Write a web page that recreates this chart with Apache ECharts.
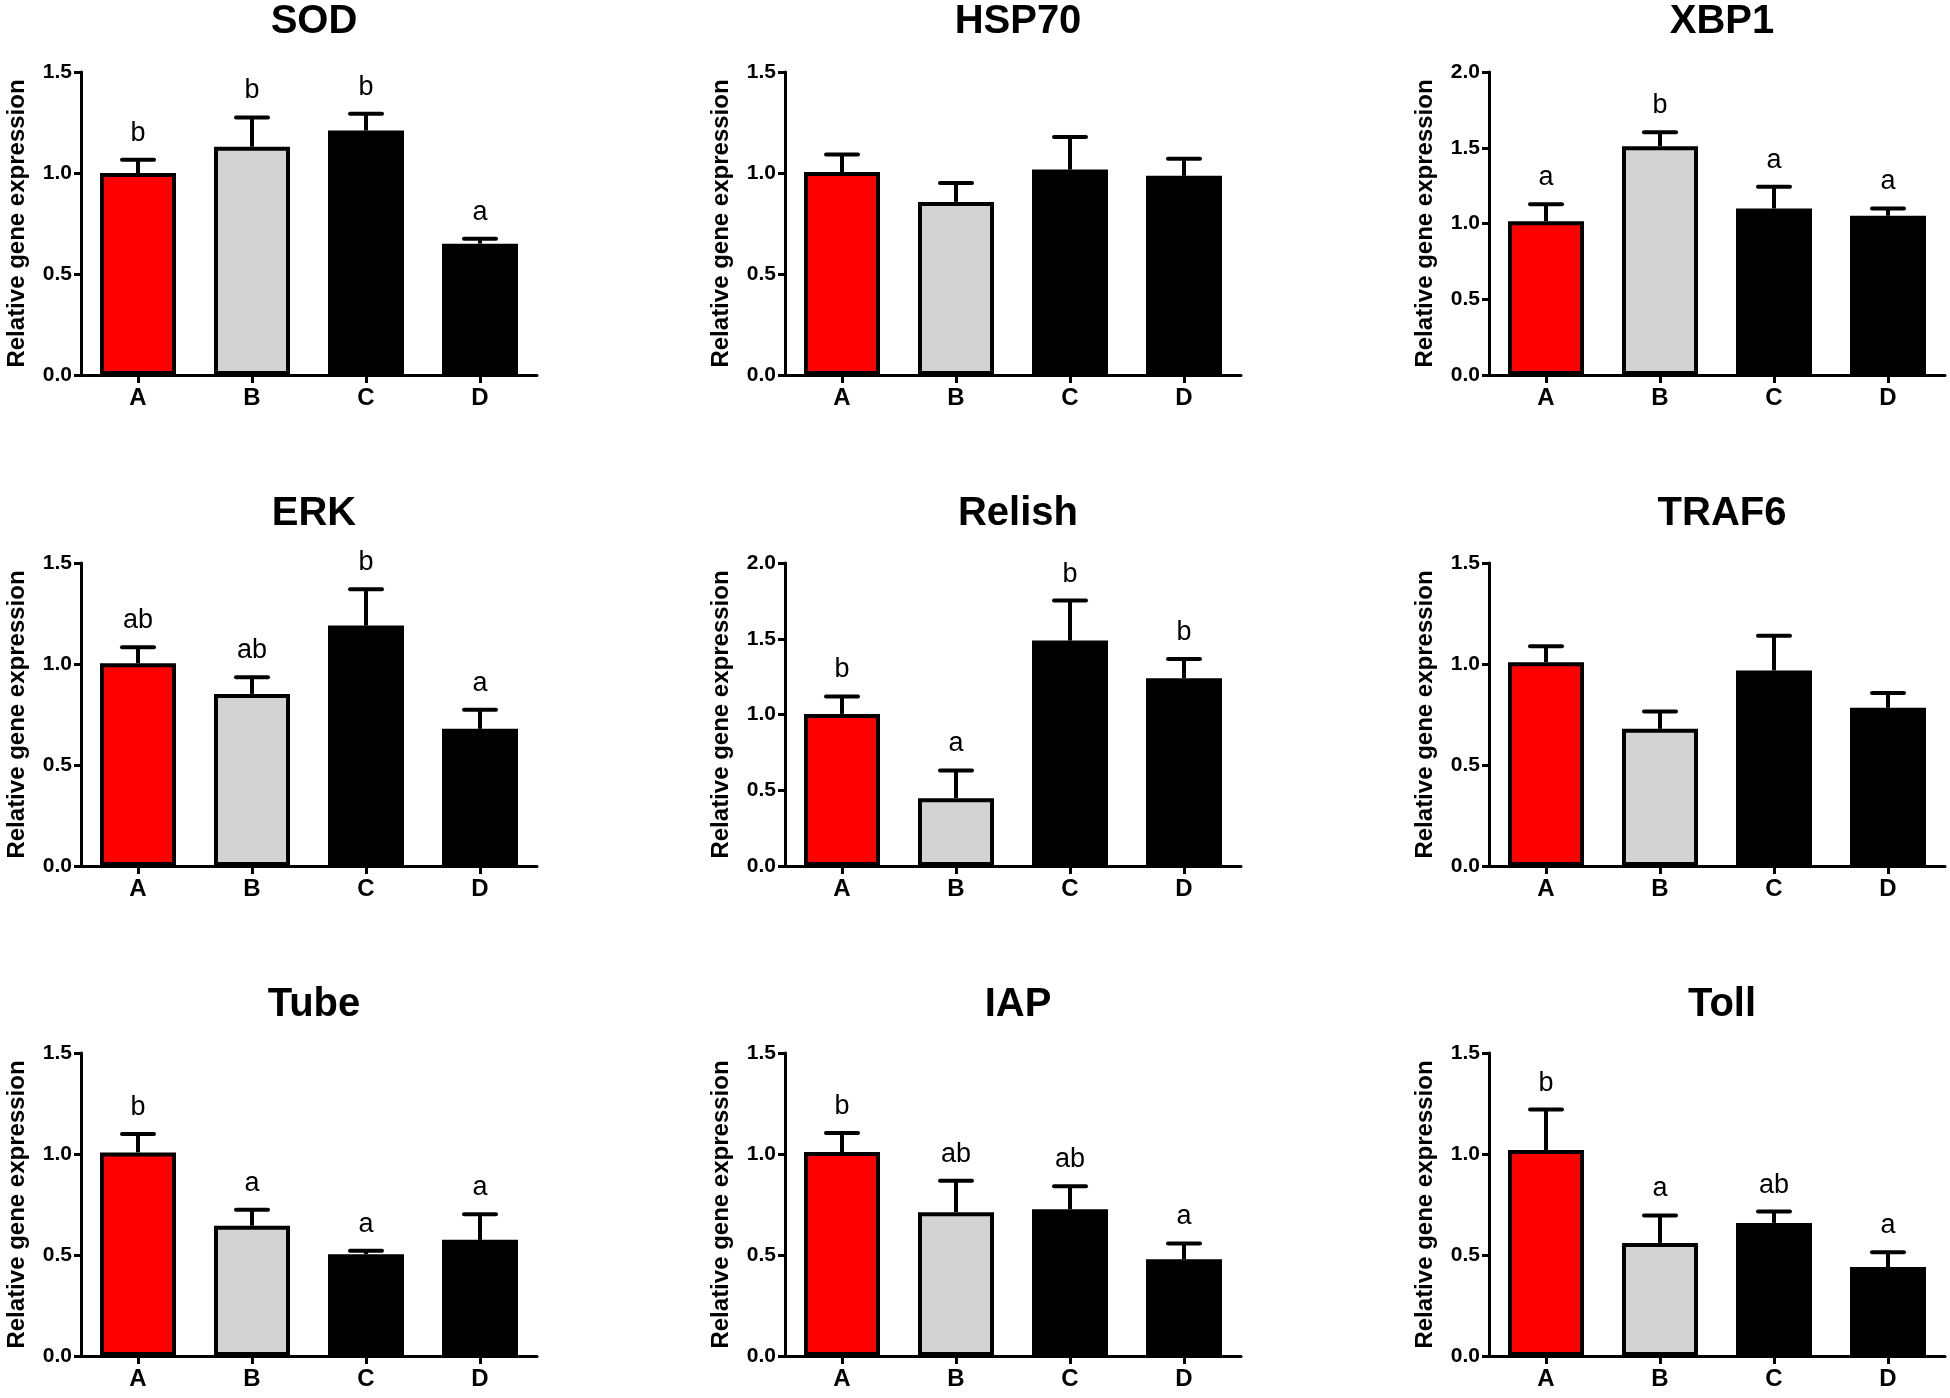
<!DOCTYPE html>
<html>
<head>
<meta charset="utf-8">
<script src="https://cdn.jsdelivr.net/npm/echarts@6/dist/echarts.min.js"></script>
<style>
html,body{margin:0;padding:0;background:#fff;}
#c{width:1950px;height:1398px;}
</style>
</head>
<body>
<div id="c"></div>
<script>
// ---- data ----
var categories = ['A', 'B', 'C', 'D'];
var barColors = ['#FF0000', '#D3D3D3', '#000000', '#000000'];

var genes = ['SOD', 'HSP70', 'XBP1', 'ERK', 'Relish', 'TRAF6', 'Tube', 'IAP', 'Toll'];
var yMax = [1.5, 1.5, 2.0, 1.5, 2.0, 1.5, 1.5, 1.5, 1.5];

var sodValues = [1.00, 1.13, 1.21, 0.65];
var sodErrors = [0.066, 0.145, 0.083, 0.025];
var sodLetters = ['b', 'b', 'b', 'a'];

var hsp70Values = [1.005, 0.857, 1.017, 0.986];
var hsp70Errors = [0.086, 0.094, 0.161, 0.085];
var hsp70Letters = ['', '', '', ''];

var xbp1Values = [1.015, 1.51, 1.099, 1.051];
var xbp1Errors = [0.112, 0.092, 0.143, 0.048];
var xbp1Letters = ['a', 'b', 'a', 'a'];

var erkValues = [1.004, 0.852, 1.19, 0.679];
var erkErrors = [0.079, 0.083, 0.18, 0.094];
var erkLetters = ['ab', 'ab', 'b', 'a'];

var relishValues = [1.004, 0.448, 1.488, 1.24];
var relishErrors = [0.115, 0.183, 0.264, 0.127];
var relishLetters = ['b', 'a', 'b', 'b'];

var traf6Values = [1.009, 0.679, 0.968, 0.783];
var traf6Errors = [0.079, 0.086, 0.172, 0.074];
var traf6Letters = ['', '', '', ''];

var tubeValues = [1.008, 0.645, 0.504, 0.575];
var tubeErrors = [0.091, 0.079, 0.017, 0.127];
var tubeLetters = ['b', 'a', 'a', 'a'];

var iapValues = [1.01, 0.712, 0.727, 0.479];
var iapErrors = [0.094, 0.156, 0.113, 0.078];
var iapLetters = ['b', 'ab', 'ab', 'a'];

var tollValues = [1.02, 0.56, 0.659, 0.44];
var tollErrors = [0.2, 0.136, 0.056, 0.073];
var tollLetters = ['b', 'a', 'ab', 'a'];

var allValues = [sodValues, hsp70Values, xbp1Values, erkValues, relishValues, traf6Values, tubeValues, iapValues, tollValues];
var allErrors = [sodErrors, hsp70Errors, xbp1Errors, erkErrors, relishErrors, traf6Errors, tubeErrors, iapErrors, tollErrors];
var allLetters = [sodLetters, hsp70Letters, xbp1Letters, erkLetters, relishLetters, traf6Letters, tubeLetters, iapLetters, tollLetters];

// ---- layout ----
var FONT = '"Liberation Sans", Arial, Helvetica, sans-serif';
var colLeft = [81, 785, 1489];
var rowTop = [72, 563, 1053];
var plotW = 456, plotH = 303;
var titleTop = [-3, 489, 980];

var option = {
  backgroundColor: '#ffffff',
  animation: false,
  title: [], grid: [], xAxis: [], yAxis: [], series: []
};

genes.forEach(function (g, i) {
  var r = Math.floor(i / 3), c = i % 3;
  option.title.push({
    text: g,
    left: colLeft[c] + plotW / 2,
    top: titleTop[r],
    textAlign: 'center',
    textStyle: { fontFamily: FONT, fontSize: 40, fontWeight: 'bold', color: '#000' }
  });
  option.grid.push({ left: colLeft[c], top: rowTop[r], width: plotW, height: plotH, containLabel: false });
  option.xAxis.push({
    type: 'category', gridIndex: i, data: categories,
    axisLine: { show: true, lineStyle: { color: '#000', width: 3 } },
    axisTick: { show: true, alignWithLabel: true, length: 8, lineStyle: { color: '#000', width: 3 } },
    axisLabel: { fontFamily: FONT, fontSize: 24, fontWeight: 'bold', color: '#000', margin: 11 }
  });
  option.yAxis.push({
    type: 'value', gridIndex: i, min: 0, max: yMax[i], interval: 0.5,
    name: 'Relative gene expression', nameLocation: 'middle', nameGap: 52,
    nameTextStyle: { fontFamily: FONT, fontSize: 24, fontWeight: 'bold', color: '#000' },
    axisLine: { show: true, lineStyle: { color: '#000', width: 3 } },
    axisTick: { show: true, length: 7, lineStyle: { color: '#000', width: 3 } },
    splitLine: { show: false },
    axisLabel: {
      fontFamily: FONT, fontSize: 21, fontWeight: 'bold', color: '#000', margin: 9,
      formatter: function (v) { return v.toFixed(1); }
    }
  });
  var vals = allValues[i], errs = allErrors[i], lets = allLetters[i];
  option.series.push({
    type: 'bar', xAxisIndex: i, yAxisIndex: i, barWidth: 76, z: 2,
    data: vals.map(function (v, k) {
      return { value: v, itemStyle: { color: barColors[k], borderColor: '#000', borderWidth: 4 } };
    })
  });
  option.series.push({
    type: 'custom', xAxisIndex: i, yAxisIndex: i, z: 3,
    data: vals.map(function (v, k) { return [k, v, errs[k]]; }),
    renderItem: function (params, api) {
      var x = api.value(0), v = api.value(1), e = api.value(2);
      var base = api.coord([x, v]);
      var top = api.coord([x, v + e]);
      var children = [
        { type: 'line', shape: { x1: base[0], y1: base[1], x2: top[0], y2: top[1] },
          style: { stroke: '#000', lineWidth: 4 } },
        { type: 'line', shape: { x1: top[0] - 16, y1: top[1], x2: top[0] + 16, y2: top[1] },
          style: { stroke: '#000', lineWidth: 4, lineCap: 'round' } }
      ];
      var t = lets[params.dataIndex];
      if (t) {
        children.push({ type: 'text', x: top[0], y: top[1] - 13,
          style: { text: t, fill: '#000', font: 'normal 27px ' + FONT, textAlign: 'center', textVerticalAlign: 'bottom' } });
      }
      return { type: 'group', children: children };
    }
  });
});

var chart = echarts.init(document.getElementById('c'));
chart.setOption(option);
</script>
</body>
</html>
